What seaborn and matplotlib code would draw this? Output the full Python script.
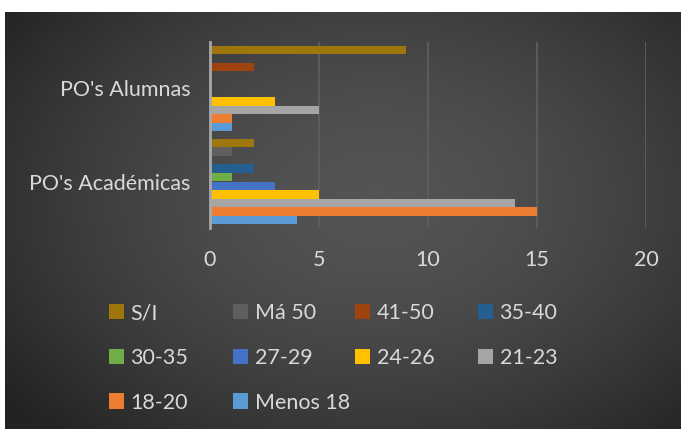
import numpy as np
import pandas as pd
import matplotlib
matplotlib.use("Agg")
import matplotlib.pyplot as plt
import seaborn as sns
from matplotlib.patches import Patch

categories = ["PO's Alumnas", "PO's Académicas"]
series = ["S/I", "Má 50", "41-50", "35-40", "30-35", "27-29", "24-26", "21-23", "18-20", "Menos 18"]
alumnas = [9, 0, 2, 0, 0, 0, 3, 5, 1, 1]
academicas = [2, 1, 0, 2, 1, 3, 5, 14, 15, 4]
colors = ["#9E760B", "#5F5F5F", "#9E430E", "#255E91", "#70AD47",
          "#4472C4", "#FFC000", "#A5A5A5", "#ED7D31", "#5B9BD5"]
xticks = [0, 5, 10, 15, 20]

rows = []
for s, a, b in zip(series, alumnas, academicas):
    rows.append({"cat": categories[0], "serie": s, "val": a})
    rows.append({"cat": categories[1], "serie": s, "val": b})
df = pd.DataFrame(rows)

sns.set_theme(style="white")
plt.rcParams['font.family'] = ['Lato', 'DejaVu Sans']

W, H = 681, 429
fig = plt.figure(figsize=(W / 100, H / 100), dpi=100, facecolor="white")

# radial gradient background panel
bg = fig.add_axes([5 / W, 0, 676 / W, 417 / H], zorder=-10)
yy, xx = np.mgrid[0:1:300j, 0:1:480j]
d = np.sqrt(((xx - 0.55) / 0.75) ** 2 + ((yy - 0.45) / 0.85) ** 2)
v = np.clip(0.33 - 0.22 * d ** 1.6, 0.14, 0.34)
img = np.dstack([v, v, v])
bg.imshow(img, aspect="auto", extent=[0, 1, 0, 1], origin="upper")
bg.set_axis_off()

ax = fig.add_axes([210 / W, 1 - 228 / H, 436 / W, 186 / H])
ax.set_facecolor("none")
palette = dict(zip(series, colors))
sns.barplot(data=df, y="cat", x="val", hue="serie", order=categories,
            hue_order=series, palette=palette, orient="h", width=0.92,
            saturation=1, ax=ax, legend=False, zorder=3, linewidth=0,
            edgecolor="none")

ax.set_xlim(0, 20)
ax.set_xticks(xticks)
ax.set_xlabel("")
ax.set_ylabel("")
ax.grid(axis="x", color="#5E5E5E", linewidth=1.3, zorder=0)
ax.grid(axis="y", visible=False)
for sp in ["top", "right", "bottom"]:
    ax.spines[sp].set_visible(False)
ax.spines["left"].set_color("#A8A8A8")
ax.spines["left"].set_linewidth(2)
ax.spines["left"].set_zorder(4)
ax.tick_params(axis="x", colors="#D9D9D9", labelsize=15.5, length=0, pad=16)
ax.tick_params(axis="y", colors="#D9D9D9", labelsize=15.5, length=0, pad=14)

# legend: 4 equal-width columns, filled row-wise
cols = [[0, 4, 8], [1, 5, 9], [2, 6], [3, 7]]
col_x = [109, 233, 355, 478]
for cx, idxs in zip(col_x, cols):
    handles = [Patch(facecolor=colors[i], edgecolor="none") for i in idxs]
    labels = [series[i] for i in idxs]
    fig.legend(handles, labels, loc="upper left",
               bbox_to_anchor=(cx / W, 1 - 303 / H), frameon=False,
               borderaxespad=0, borderpad=0,
               fontsize=15.5, labelcolor="#D9D9D9", handlelength=0.7,
               handleheight=0.7, handletextpad=0.3, labelspacing=1.15)

fig.savefig("out.png", dpi=100, facecolor="white")
